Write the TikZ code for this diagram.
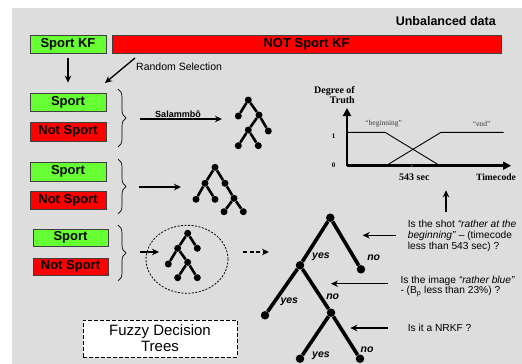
\documentclass[tikz,border=0pt]{standalone}
\usepackage{fontspec}
\setmainfont{Liberation Sans}
\newfontfamily\chartfont{Liberation Serif}
\usetikzlibrary{arrows.meta,decorations.pathreplacing,shapes.geometric}
\definecolor{bg}{HTML}{DDDDDD}
\definecolor{kfgreen}{HTML}{66FF33}
\definecolor{kfred}{HTML}{FF0000}
\begin{document}
\begin{tikzpicture}[x=1pt,y=-1pt,
  box/.style={draw=black!75, line width=0.8pt, minimum height=18pt, inner sep=0pt, font=\fontsize{13}{14}\selectfont\bfseries},
  gbox/.style={box, fill=kfgreen, minimum width=76pt},
  rbox/.style={box, fill=kfred, minimum width=76pt},
  dot/.style={circle, fill=black, inner sep=0pt, minimum size=7pt},
  bigdot/.style={circle, fill=black, inner sep=0pt, minimum size=8.5pt},
  tedge/.style={line width=2.6pt},
  bigedge/.style={line width=3.6pt},
  arr/.style={-{Stealth[length=7pt,width=6.5pt]}, line width=1.3pt},
  qarr/.style={-{Stealth[length=7pt,width=6.5pt]}, line width=1.1pt},
  brc/.style={decorate, decoration={brace, amplitude=8pt}, line width=0.7pt},
  yn/.style={font=\fontsize{10.5}{12}\selectfont\bfseries\itshape, inner sep=0pt},
  qtext/.style={font=\fontsize{10.2}{10.6}\selectfont, align=left, inner sep=0pt, anchor=west},
  cfont/.style={font=\chartfont\bfseries\fontsize{10}{10.5}\selectfont, inner sep=0pt},
  axis/.style={line width=2.6pt, -{Triangle[length=8pt,width=8pt]}},
  memb/.style={line width=0.9pt}]
\useasboundingbox (0,0) rectangle (522,364);
\fill[white] (0,0) rectangle (522,364);
\fill[bg] (12,8) rectangle (522,364);

% title
\node[anchor=east, inner sep=0pt, font=\fontsize{12.5}{14}\selectfont\bfseries] (title) at (496,20.7) {Unbalanced data};

% top boxes
\node[gbox] (skf) at (68,44) {Sport KF};
\node[box, fill=kfred, minimum width=389pt] (nskf) at (306.5,44) {NOT Sport KF};

% rows
\node[gbox] (s1) at (68,102) {Sport};
\node[rbox, minimum height=19pt] (n1) at (68,131.5) {Not Sport};
\node[gbox, minimum height=19pt] (s2) at (68,171.5) {Sport};
\node[rbox] (n2) at (68,200) {Not Sport};
\node[gbox, minimum width=75pt, minimum height=17pt] (s3) at (70.5,237.5) {Sport};
\node[rbox, minimum width=75pt, minimum height=17pt] (n3) at (70.5,266.5) {Not Sport};

% down arrow & random selection
\draw[arr, shorten <=5pt, shorten >=10pt] (skf) -- (s1);
\coordinate (rsA) at (135,58);
\coordinate (rsB) at (105,83);
\draw[arr] (rsA) -- (rsB);
\node[anchor=west, inner sep=0pt, font=\fontsize{10.5}{12}\selectfont] (rslab) at (136,67) {Random Selection};

% braces
\coordinate (b1t) at (118,89);  \coordinate (b1b) at (118,147);
\coordinate (b2t) at (118,159); \coordinate (b2b) at (118,214);
\coordinate (b3t) at (118,225); \coordinate (b3b) at (118,281);
\draw[brc] (b1t) -- (b1b);
\draw[brc] (b2t) -- (b2b);
\draw[brc] (b3t) -- (b3b);

% arrows from braces
\coordinate (ar1a) at (140,119); \coordinate (ar1b) at (222,119);
\draw[arr] (ar1a) -- (ar1b);
\node[inner sep=0pt, font=\fontsize{9}{10}\selectfont\bfseries] (sal) at (178,114) {Salammbô};
\coordinate (ar2a) at (139,187); \coordinate (ar2b) at (181,187);
\draw[arr] (ar2a) -- (ar2b);
\coordinate (ar3a) at (140,252); \coordinate (ar3b) at (159,252);
\draw[arr] (ar3a) -- (ar3b);

% tree 1
\node[dot] (a1) at (248.3,100) {};
\node[dot] (a2) at (238.3,116) {};
\node[dot] (a3) at (259,115) {};
\node[dot] (a4) at (268.3,131) {};
\node[dot] (a5) at (248.3,130) {};
\node[dot] (a6) at (238.3,145.7) {};
\node[dot] (a7) at (258.3,145.7) {};
\draw[tedge] (a2) -- (a1) -- (a3) -- (a4) (a3) -- (a5) -- (a6) (a5) -- (a7);

% tree 2
\node[dot] (t1) at (215,167.3) {};
\node[dot] (t2) at (205,183.3) {};
\node[dot] (t3) at (225,183.3) {};
\node[dot] (t4) at (196,199.3) {};
\node[dot] (t5) at (215,199.3) {};
\node[dot] (t6) at (234,198.3) {};
\node[dot] (t7) at (224,211.7) {};
\node[dot] (t8) at (243.3,211.7) {};
\draw[tedge] (t4) -- (t2) -- (t1) -- (t3) -- (t6) -- (t8) (t2) -- (t5) (t6) -- (t7);

% tree 3 with circle
\node[draw, ellipse, dash pattern=on 2pt off 1.5pt, line width=0.8pt, minimum width=82pt, minimum height=68pt, inner sep=0pt] (circ) at (187,259.3) {};
\node[dot] (c1) at (187.7,233.3) {};
\node[dot] (c2) at (197.3,248.3) {};
\node[dot] (c3) at (177.7,248.3) {};
\node[dot] (c4) at (168.3,264) {};
\node[dot] (c5) at (187.7,262.3) {};
\node[dot] (c6) at (177.7,277.7) {};
\node[dot] (c7) at (197.3,277.7) {};
\draw[tedge] (c2) -- (c1) -- (c3) -- (c4) (c3) -- (c5) -- (c6) (c5) -- (c7);

% dashed arrow
\coordinate (da) at (243,252); \coordinate (db) at (269,252);
\draw[arr, dash pattern=on 4pt off 2.5pt] (da) -- (db);

% fuzzy box
\node[draw, dash pattern=on 4pt off 2pt, line width=1pt, fill=white, minimum width=154pt, minimum height=37pt, align=center, inner sep=0pt, font=\fontsize{15}{16}\selectfont] (fdt) at (160,338.5) {Fuzzy Decision\\Trees};

% big tree
\node[bigdot] (d1) at (330.3,217.7) {};
\node[bigdot] (d2) at (361,269.3) {};
\node[bigdot] (d3) at (300,265.3) {};
\node[bigdot] (d4) at (265,315.3) {};
\node[bigdot] (d5) at (331,312.7) {};
\node[bigdot] (d6) at (300,358.7) {};
\node[bigdot] (d7) at (360,358.7) {};
\draw[bigedge] (d2) -- (d1) -- (d3) -- (d4) (d3) -- (d5) -- (d6) (d5) -- (d7);
\node[yn] (y1) at (321,257) {yes};
\node[yn] (n1l) at (373.7,258) {no};
\node[yn] (y2) at (289.3,302) {yes};
\node[yn] (n2l) at (332.7,297) {no};
\node[yn] (y3) at (321,355.3) {yes};
\node[yn] (n3l) at (367,349.7) {no};

% question arrows and texts
\node[qtext] (q1) at (407.7,235.8) {Is the shot \textit{“rather at the}\\\textit{beginning”} – (timecode\\less than 543 sec) ?};
\node[qtext] (q2) at (400.3,286.2) {Is the image \textit{“rather blue”}\\- (B\textsubscript{p} less than 23\%) ?};
\node[qtext] (q3) at (407.7,328) {Is it a NRKF ?};
\coordinate (q1a) at (396,235.3); \coordinate (q1b) at (362.7,235.3);
\coordinate (q2a) at (387.7,283.7); \coordinate (q2b) at (331,283.7);
\coordinate (q3a) at (387.7,328); \coordinate (q3b) at (350.3,328);
\draw[qarr] (q1a) -- (q1b);
\draw[qarr] (q2a) -- (q2b);
\draw[qarr] (q3a) -- (q3b);
\coordinate (upa) at (446,212); \coordinate (upb) at (446,190.3);
\draw[arr] (upa) -- (upb);

% chart
\coordinate (O) at (347,165.7);
\coordinate (ytip) at (347,108);
\coordinate (xtip) at (511,165.7);
\coordinate (m1) at (347,132.3);
\coordinate (m2) at (385,132.3);
\coordinate (m3) at (440,165.7);
\coordinate (e1) at (386,165.7);
\coordinate (e2) at (441,132.3);
\coordinate (e3) at (503.7,132.3);
\draw[memb] (m1) -- (m2) -- (m3);
\draw[memb] (e1) -- (e2) -- (e3);
\draw[axis] (O) -- (ytip);
\draw[axis] (O) -- (xtip);
\coordinate (tk) at (411.7,165.7);
\fill[black!70] (tk) circle (1.2pt);
\node[cfont, align=right, anchor=east] (dot1) at (355,95) {Degree of\\Truth};
\node[cfont, font=\chartfont\bfseries\fontsize{7}{8}\selectfont] (one) at (333.7,135.7) {1};
\node[cfont, font=\chartfont\bfseries\fontsize{7}{8}\selectfont] (zero) at (333.7,165) {0};
\node[inner sep=0pt, text=black!75, font=\chartfont\fontsize{7.5}{8}\selectfont] (beg) at (383.7,124) {“beginning”};
\node[inner sep=0pt, text=black!75, font=\chartfont\fontsize{7.5}{8}\selectfont] (endl) at (481.7,124) {“end”};
\node[cfont] (sec) at (414.3,177.3) {543 sec};
\node[cfont, font=\chartfont\bfseries\fontsize{9.6}{10}\selectfont] (tc) at (496,177.3) {Timecode};
\end{tikzpicture}
\end{document}
